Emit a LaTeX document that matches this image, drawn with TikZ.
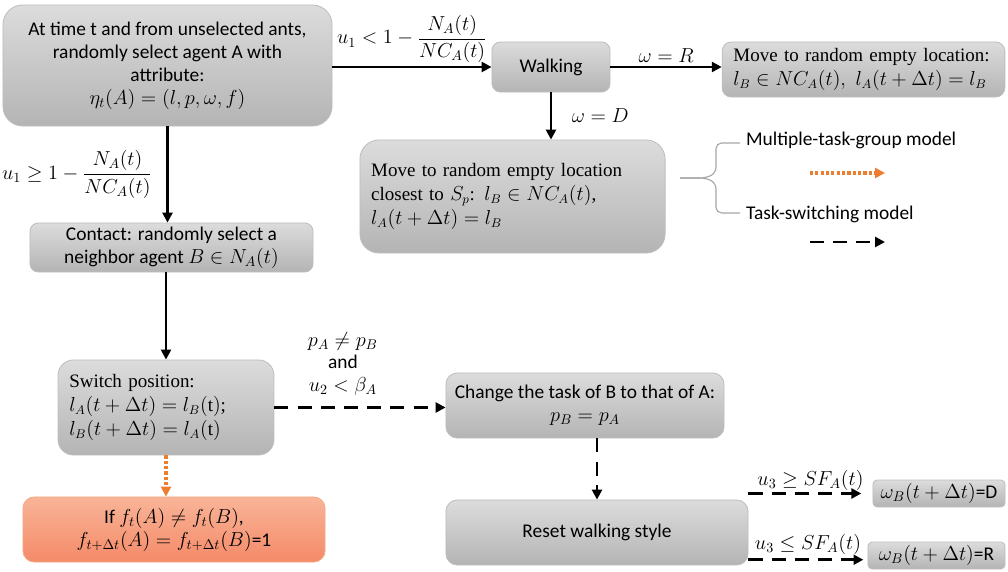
\documentclass[tikz,border=0pt]{standalone}
\usepackage{amsmath}
\usepackage{fontspec}
\setmainfont{Carlito}
\newfontfamily\timesfont{Liberation Serif}
\usepackage{tikz}
\usetikzlibrary{arrows.meta,positioning}

\definecolor{boxtop}{RGB}{220,220,220}
\definecolor{boxbot}{RGB}{180,180,180}
\definecolor{boxline}{RGB}{190,190,190}
\definecolor{ortop}{RGB}{249,180,152}
\definecolor{orbot}{RGB}{244,138,104}
\definecolor{orline}{RGB}{244,170,130}
\definecolor{ordot}{RGB}{237,125,49}

\tikzset{
  box/.style={draw=boxline,line width=0.6pt,top color=boxtop,bottom color=boxbot,
    align=center,inner sep=0pt,font=\fontsize{13.8}{16.4}\selectfont},
  serifbox/.style={box,align=left,inner xsep=8pt,
    font=\timesfont\fontsize{13.5}{17}\selectfont},
  orangebox/.style={box,draw=orline,top color=ortop,bottom color=orbot},
  flow/.style={->,line width=1.8pt},
  dashflow/.style={->,line width=1.8pt,dash pattern=on 10pt off 6.5pt},
  dotflow/.style={->,line width=2.2pt,color=ordot,dash pattern=on 2.2pt off 1.6pt},
  lbl/.style={font=\fontsize{13.8}{16}\selectfont,inner sep=2pt}
}

\begin{document}
\begin{tikzpicture}[x=0.025cm,y=-0.025cm,>={Triangle[length=7pt,width=7pt]}]
    \useasboundingbox (0,0) rectangle (1008,572);
    % boxes
    \node[box,rounded corners=14pt,minimum width=8.225cm,minimum height=3.025cm] (start) at (167.5,65.5)
      {At time t and from unselected ants,\\ randomly select agent A with\\ attribute:\\ $\eta_t(A)=(l,p,\omega,f)$};
    \node[box,rounded corners=6pt,minimum width=2.95cm,minimum height=1.25cm] (walking) at (551,67) {Walking};
    \node[serifbox,rounded corners=6.5pt,text width=185pt,minimum height=1.375cm] (moverand) at (863.5,69.5)
      {Move to random empty location:\\ $l_B\in NC_A(t),\ l_A(t+\Delta t)=l_B$};
    \node[serifbox,rounded corners=13.5pt,text width=201pt,minimum height=2.825cm] (moveclose) at (512.5,196.5)
      {Move to random empty location\\ closest to $S_p$: $l_B\in NC_A(t)$,\\ $l_A(t+\Delta t)=l_B$};
    \node[box,rounded corners=6pt,minimum width=7.075cm,minimum height=1.225cm] (contact) at (171.5,247.5)
      {Contact: randomly select a\\ neighbor agent $B\in N_A(t)$};
    \node[serifbox,rounded corners=11pt,text width=137.6pt,minimum height=2.375cm] (switch) at (166,407.5)
      {Switch position:\\ $l_A(t+\Delta t)=l_B(\text{t})$;\\ $l_B(t+\Delta t)=l_A(\text{t})$};
    \node[orangebox,rounded corners=8pt,minimum width=7.55cm,minimum height=1.625cm] (flag) at (174,529.5)
      {If $f_t(A)\neq f_t(B)$,\\ $f_{t+\Delta t}(A)=f_{t+\Delta t}(B)$=1};
    \node[box,rounded corners=8pt,minimum width=6.95cm,minimum height=1.625cm] (change) at (585,405.5)
      {Change the task of B to that of A:\\ $p_B=p_A$};
    \node[box,rounded corners=8pt,minimum width=7.55cm,minimum height=1.625cm] (reset) at (597,532.5)
      {Reset walking style};
    \node[box,rounded corners=3pt,minimum width=3.3cm,minimum height=0.675cm] (walkD) at (939,493.5)
      {$\omega_B(t+\Delta t)$=D};
    \node[box,rounded corners=3pt,minimum width=3.425cm,minimum height=0.675cm] (walkR) at (936.5,555.5)
      {$\omega_B(t+\Delta t)$=R};
    % legend
    \node[lbl,anchor=west] (legmtg) at (743,140) {Multiple-task-group model};
    \node[lbl,anchor=west] (legts) at (743,214) {Task-switching model};
    \coordinate (mtgA) at (810,173);
    \coordinate (mtgB) at (885,173);
    \coordinate (tsA) at (810,242);
    \coordinate (tsB) at (885,242);
    \draw[gray!70,line width=0.8pt,rounded corners=4pt]
      (740,143) -- (716,143) -- (716,173) -- (706,178) -- (680,178);
    \draw[gray!70,line width=0.8pt,rounded corners=4pt]
      (740,213) -- (716,213) -- (716,183) -- (706,178) -- (680,178);
    \draw[dotflow] (mtgA) -- (mtgB);
    \draw[dashflow] (tsA) -- (tsB);
    % solid edges
    \path[flow]
    (walking.west -| start.east) edge node[lbl,above] {$u_1<1-\dfrac{N_A(t)}{NC_A(t)}$} (walking.west)
    (walking.east) edge node[lbl,above] {$\omega=R$} (walking.east -| moverand.west)
    (walking.south) edge node[lbl,right,xshift=12pt] {$\omega=D$} (walking.south |- moveclose.north)
    (start.south) edge node[lbl,left,xshift=-8pt] {$u_1\geq 1-\dfrac{N_A(t)}{NC_A(t)}$} (start.south |- contact.north)
    (switch.north |- contact.south) edge (switch.north);
    % dashed edges
    \path[dashflow]
    (switch.east) edge node[lbl,above,pos=0.4,align=center,yshift=6pt] {$p_A\neq p_B$\\ and\\ $u_2<\beta_A$} (switch.east -| change.west)
    (reset.north |- change.south) edge (reset.north)
    (reset.east |- walkD.west) edge[shorten >=8pt] node[lbl,above,inner sep=1pt] {$u_3\geq SF_A(t)$} (walkD.west)
    ([yshift=-3pt]reset.east |- walkR.west) edge[shorten >=3pt] node[lbl,above,inner sep=3pt] {$u_3\leq SF_A(t)$} ([yshift=-3pt]walkR.west);
    % orange edge
    \path[dotflow]
    (switch.south) edge (switch.south |- flag.north);
  \end{tikzpicture}
\end{document}
